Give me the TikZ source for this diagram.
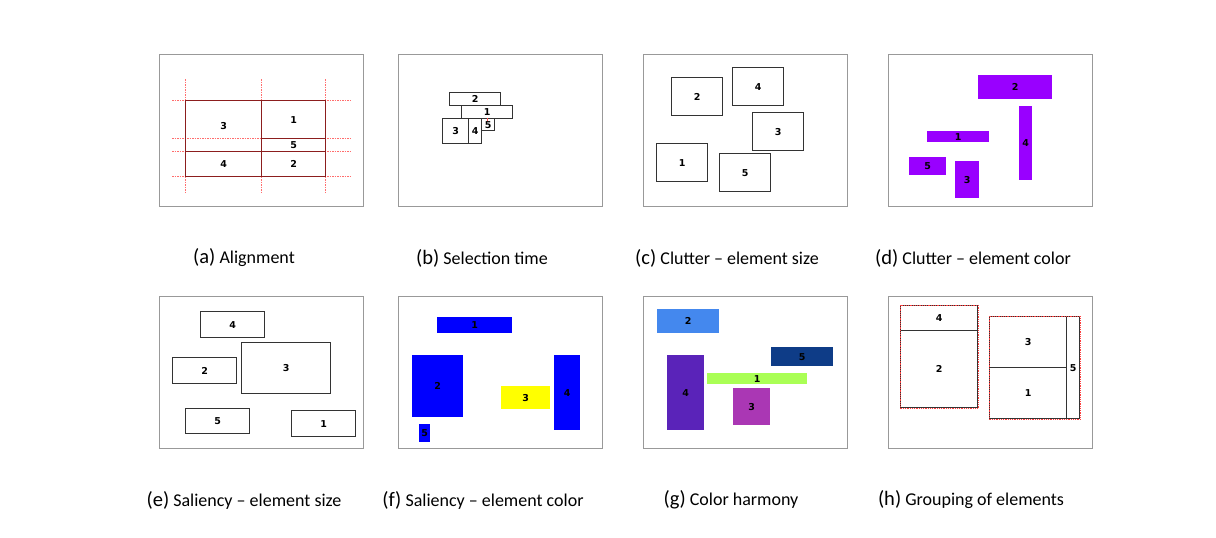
\documentclass[tikz,border=0pt]{standalone}
\usepackage{fontspec}
\newfontfamily\capfont[Ligatures=TeX]{Carlito}
\newfontfamily\numfont{DejaVu Sans}
\usetikzlibrary{positioning}

\definecolor{alinered}{RGB}{140,30,30}
\definecolor{guidered}{RGB}{255,110,110}
\definecolor{clutpurple}{RGB}{153,0,255}
\definecolor{salblue}{RGB}{0,0,255}
\definecolor{salyellow}{RGB}{255,255,0}
\definecolor{harmblue}{RGB}{68,136,238}
\definecolor{harmnavy}{RGB}{14,60,135}
\definecolor{harmlime}{RGB}{170,255,85}
\definecolor{harmviolet}{RGB}{90,35,185}
\definecolor{harmmagenta}{RGB}{170,55,180}

\newcommand{\sublbl}[1]{{\fontsize{20.5}{20.5}\selectfont(#1)}}

\begin{document}
\begin{tikzpicture}[x=1pt, y=-1pt,
 panel/.style={draw=black!40, line width=0.9pt, inner sep=0pt, anchor=north west, minimum width=204pt, minimum height=152pt},
 el/.style={draw=black!80, line width=1.3pt, inner sep=0pt, anchor=north west, font=\numfont\bfseries\fontsize{9.5}{9.5}\selectfont},
 fl/.style={inner sep=0pt, anchor=north west, font=\numfont\bfseries\fontsize{9.5}{9.5}\selectfont},
 guide/.style={draw=guidered, dash pattern=on 1.5pt off 1pt, line width=1pt},
 grp/.style={draw=red!75, densely dotted, line width=0.8pt},
 captxt/.style={font=\capfont\fontsize{18}{18}\selectfont}]
\useasboundingbox (0,0) rectangle (1216,538);
\fill[white] (0,0) rectangle (1216,538);

% panel frames
\node[panel] (pa) at (159,54) {};
\node[panel] (pb) at (398,54) {};
\node[panel] (pc) at (643,54) {};
\node[panel] (pd) at (888,54) {};
\node[panel] (pe) at (159,296) {};
\node[panel] (pf) at (398,296) {};
\node[panel] (pg) at (643,296) {};
\node[panel] (ph) at (888,296) {};

% (a) alignment
\foreach \gx in {185,261,325} \draw[guide] (\gx,79) -- (\gx,194);
\foreach \gy in {100,138,151,176} \draw[guide] (172,\gy) -- (350,\gy);
\node[el, draw=alinered, minimum width=76pt, minimum height=51pt] (a3) at (185,100) {3};
\node[el, draw=alinered, minimum width=64pt, minimum height=38pt] (a1) at (261,100) {1};
\node[el, draw=alinered, minimum width=64pt, minimum height=13pt] (a5) at (261,138) {5};
\node[el, draw=alinered, minimum width=76pt, minimum height=25pt] (a4) at (185,151) {4};
\node[el, draw=alinered, minimum width=64pt, minimum height=25pt] (a2) at (261,151) {2};

% (b) selection time
\node[el, minimum width=51pt, minimum height=13pt] (b2) at (449,92) {2};
\node[el, minimum width=51pt, minimum height=13pt] (b1) at (461,105) {1};
\node[el, minimum width=26pt, minimum height=25pt] (b3) at (442,118) {3};
\node[el, minimum width=13pt, minimum height=25pt] (b4) at (468,118) {4};
\node[el, minimum width=13pt, minimum height=12pt] (b5) at (481,118) {};
\draw[red!70, line width=0.6pt] (487.5,118) -- (487.5,121);
\node[fl, anchor=center] (b5t) at (b5.center) {5};

% (c) clutter - element size
\node[el, minimum width=51pt, minimum height=38pt] (c2) at (671,77) {2};
\node[el, minimum width=51pt, minimum height=38pt] (c4) at (732,67) {4};
\node[el, minimum width=51pt, minimum height=38pt] (c3) at (752,112) {3};
\node[el, minimum width=51pt, minimum height=38pt] (c1) at (656,143) {1};
\node[el, minimum width=51pt, minimum height=38pt] (c5) at (719,153) {5};

% (d) clutter - element color
\node[fl, fill=clutpurple, minimum width=74pt, minimum height=24pt] (d2) at (978,75) {2};
\node[fl, fill=clutpurple, minimum width=13pt, minimum height=74pt] (d4) at (1019,106) {4};
\node[fl, fill=clutpurple, minimum width=62pt, minimum height=11pt] (d1) at (927,131) {1};
\node[fl, fill=clutpurple, minimum width=37pt, minimum height=18pt] (d5) at (909,157) {5};
\node[fl, fill=clutpurple, minimum width=24pt, minimum height=37pt] (d3) at (955,161) {3};

% (e) saliency - element size
\node[el, minimum width=64pt, minimum height=26pt] (e4) at (200,311) {4};
\node[el, minimum width=64pt, minimum height=26pt] (e2) at (172,357) {2};
\node[el, minimum width=89pt, minimum height=51pt] (e3) at (241,342) {3};
\node[el, minimum width=64pt, minimum height=25pt] (e5) at (185,408) {5};
\node[el, minimum width=64pt, minimum height=26pt] (e1) at (291,410) {1};

% (f) saliency - element color
\node[fl, fill=salblue, minimum width=75pt, minimum height=16pt] (f1) at (437,317) {1};
\node[fl, fill=salblue, minimum width=51pt, minimum height=62pt] (f2) at (412,355) {2};
\node[fl, fill=salyellow, minimum width=49pt, minimum height=23pt] (f3) at (501,386) {3};
\node[fl, fill=salblue, minimum width=26pt, minimum height=75pt] (f4) at (554,355) {4};
\node[fl, fill=salblue, minimum width=11pt, minimum height=18pt] (f5) at (419,424) {5};

% (g) color harmony
\node[fl, fill=harmblue, minimum width=62pt, minimum height=24pt] (g2) at (657,309) {2};
\node[fl, fill=harmnavy, minimum width=62pt, minimum height=19pt] (g5) at (771,347) {5};
\node[fl, fill=harmlime, minimum width=100pt, minimum height=11pt] (g1) at (707,373) {1};
\node[fl, fill=harmviolet, minimum width=37pt, minimum height=75pt] (g4) at (667,355) {4};
\node[fl, fill=harmmagenta, minimum width=37pt, minimum height=37pt] (g3) at (733,388) {3};

% (h) grouping of elements
\node[el, minimum width=77pt, minimum height=25pt] (h4) at (900,305) {4};
\node[el, minimum width=77pt, minimum height=77pt] (h2) at (900,330) {2};
\node[el, minimum width=77pt, minimum height=51pt] (h3) at (989,316) {3};
\node[el, minimum width=77pt, minimum height=51pt] (h1) at (989,367) {1};
\node[el, minimum width=13pt, minimum height=102pt] (h5) at (1066,316) {5};
\draw[grp] (h4.north west) rectangle (h2.south east);
\draw[grp] (h3.north west) rectangle (h5.south east);

% captions
\node[captxt] (ca) at (244,258) {\sublbl{a} Alignment};
\node[captxt] (cb) at (482,258) {\sublbl{b} Selection time};
\node[captxt] (cc) at (727,258) {\sublbl{c} Clutter -- element size};
\node[captxt] (cd) at (973,258) {\sublbl{d} Clutter -- element color};
\node[captxt] (ce) at (244,500) {\sublbl{e} Saliency -- element size};
\node[captxt] (cf) at (483,500) {\sublbl{f} Saliency -- element color};
\node[captxt] (cg) at (731,500) {\sublbl{g} Color harmony};
\node[captxt] (ch) at (971,500) {\sublbl{h} Grouping of elements};
\end{tikzpicture}
\end{document}
